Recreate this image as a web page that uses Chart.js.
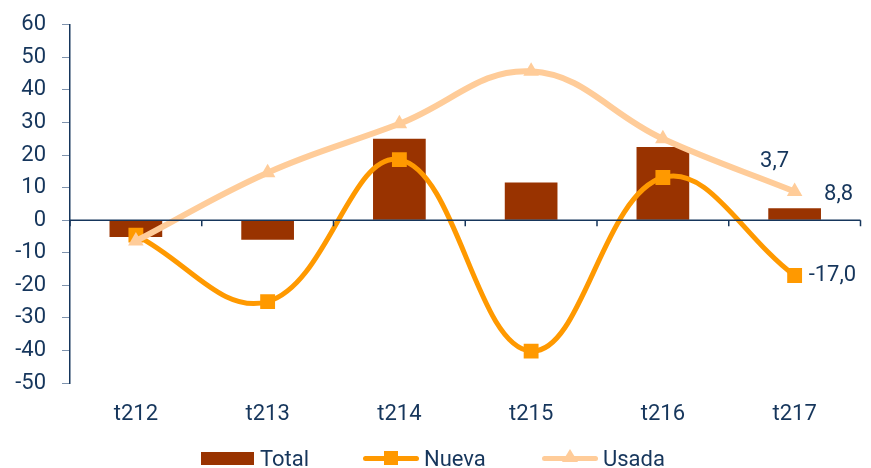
<!DOCTYPE html>
<html>
<head>
<meta charset="utf-8">
<script src="https://cdn.jsdelivr.net/npm/chart.js@4"></script>
<style>
  body { margin: 0; background: #fff; }
  #wrap { position: relative; width: 871px; height: 468px; }
  #leyenda { position: absolute; left: 0; top: 446px; width: 871px; height: 24px;
    font-family: Roboto, "Liberation Sans", Arial, sans-serif; font-size: 22px; color: #16365C; }
  .item { position: absolute; top: 0; height: 24px; display: flex; align-items: center; }
  .caja { width: 53px; height: 13px; background: #993300; margin-right: 6px; }
  .linea { position: relative; width: 56px; height: 5px; border-radius: 3px; margin-right: 5px; }
  .cuadro { position: absolute; left: 21px; top: -5px; width: 14px; height: 14px; background: #FF9900; }
  .tri { position: absolute; left: 20px; top: -7px; width: 0; height: 0;
    border-left: 8px solid transparent; border-right: 8px solid transparent; border-bottom: 13px solid #FFCC99; }
</style>
</head>
<body>
<div id="wrap">
  <canvas id="grafico" width="871" height="468"></canvas>
  <div id="leyenda">
    <div class="item" style="left:201px"><span class="caja"></span>Total</div>
    <div class="item" style="left:363px"><span class="linea" style="background:#FF9900"><span class="cuadro"></span></span>Nueva</div>
    <div class="item" style="left:542px"><span class="linea" style="background:#FFCC99"><span class="tri"></span></span>Usada</div>
  </div>
</div>
<script>
const categorias = ["t212", "t213", "t214", "t215", "t216", "t217"];
const total = [-5.2, -6.0, 25.0, 11.6, 22.5, 3.7];
const nueva = [-4.6, -25.0, 18.6, -40.2, 13.1, -17.0];
const usada = [-6.4, 14.6, 29.6, 45.7, 25.0, 8.8];
const ticksY = [-50, -40, -30, -20, -10, 0, 10, 20, 30, 40, 50, 60];

const azul = "#16365C";
const fuente = "Roboto, 'Liberation Sans', Arial, sans-serif";

// etiquetas del ultimo trimestre
const etiquetas = [
    { dataset: 0, texto: "3,7", dx: -20, dy: -47, align: "center" },
    { dataset: 2, texto: "8,8", dx: 44, dy: 3, align: "center" },
    { dataset: 1, texto: "-17,0", dx: 14, dy: 0, align: "left" }
];

const ejeCero = {
    id: "ejeCero",
    afterDatasetsDraw(chart) {
        const ctx = chart.ctx;
        const x = chart.scales.x;
        const y = chart.scales.y;
        const y0 = y.getPixelForValue(0);
        const area = chart.chartArea;
        ctx.save();
        ctx.strokeStyle = azul;
        ctx.lineWidth = 1.5;
        ctx.beginPath();
        ctx.moveTo(area.left, y0);
        ctx.lineTo(area.right, y0);
        const bordes = [area.left, area.right];
        for (let i = 1; i < categorias.length; i++) {
            bordes.push((x.getPixelForValue(i - 1) + x.getPixelForValue(i)) / 2);
        }
        bordes.forEach(b => {
            ctx.moveTo(b, y0);
            ctx.lineTo(b, y0 + 6);
        });
        ctx.stroke();

        ctx.fillStyle = azul;
        ctx.font = "22px " + fuente;
        ctx.textBaseline = "middle";
        const ultimo = categorias.length - 1;
        etiquetas.forEach(e => {
            const p = chart.getDatasetMeta(e.dataset).data[ultimo];
            ctx.textAlign = e.align;
            ctx.fillText(e.texto, p.x + e.dx, p.y + e.dy);
        });
        ctx.restore();
    }
};

new Chart(document.getElementById("grafico"), {
    data: {
        labels: categorias,
        datasets: [
            {
                type: "bar",
                label: "Total",
                data: total,
                backgroundColor: "#993300",
                categoryPercentage: 0.8,
                barPercentage: 0.5,
                order: 3
            },
            {
                type: "line",
                label: "Nueva",
                data: nueva,
                borderColor: "#FF9900",
                backgroundColor: "#FF9900",
                borderWidth: 5,
                tension: 0.4,
                pointStyle: "rect",
                pointRadius: 10.5,
                pointBorderWidth: 0,
                order: 2
            },
            {
                type: "line",
                label: "Usada",
                data: usada,
                borderColor: "#FFCC99",
                backgroundColor: "#FFCC99",
                borderWidth: 6,
                tension: 0.4,
                pointStyle: "triangle",
                pointRadius: 9,
                pointBorderWidth: 0,
                order: 1
            }
        ]
    },
    options: {
        responsive: false,
        animation: false,
        layout: { padding: { left: 0, right: 6, top: 22, bottom: 0 } },
        plugins: {
            legend: { display: false },
            tooltip: { enabled: false }
        },
        scales: {
            x: {
                grid: { display: false },
                border: { display: false },
                ticks: { color: azul, font: { family: fuente, size: 22 }, padding: 10 },
                afterFit(scale) { scale.height = 85; }
            },
            y: {
                min: -50,
                max: 60,
                afterBuildTicks(scale) { scale.ticks = ticksY.map(v => ({ value: v })); },
                grid: { drawOnChartArea: false, drawTicks: true, tickLength: 8, color: "#7F93AD" },
                border: { color: azul, width: 1.5 },
                ticks: { color: azul, font: { family: fuente, size: 22, lineHeight: 0.8 }, padding: 16 },
                afterFit(scale) { scale.width = 70; }
            }
        }
    },
    plugins: [ejeCero]
});
</script>
</body>
</html>
